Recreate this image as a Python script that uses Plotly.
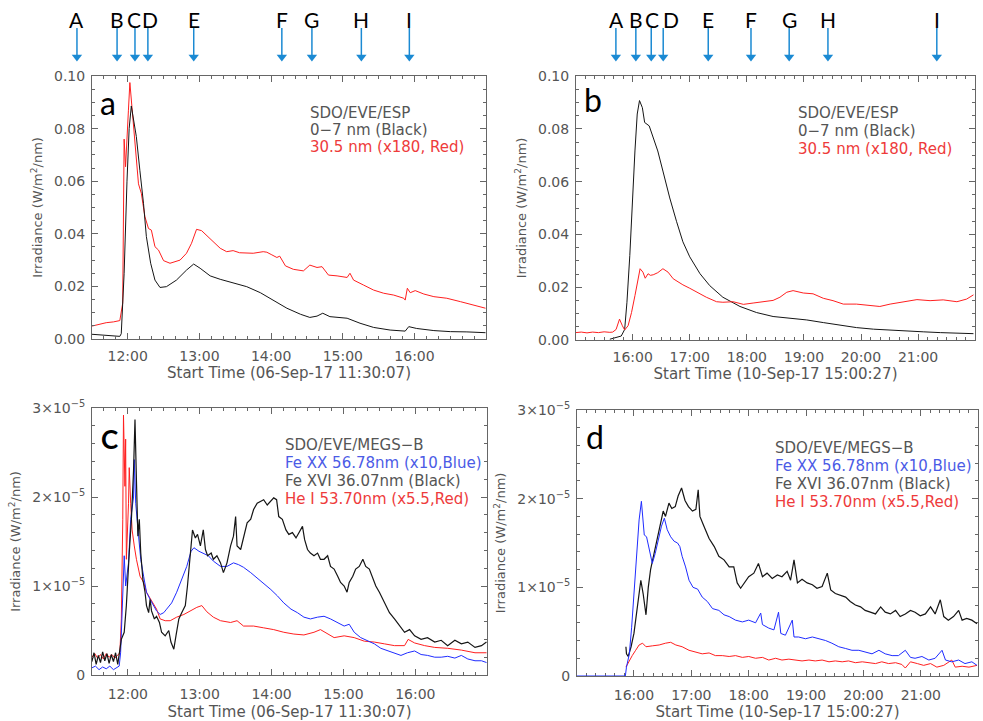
import pandas as pd
import plotly.graph_objects as go

W, H = 983, 721
DAY1 = pd.Timestamp("2017-09-06")
DAY2 = pd.Timestamp("2017-09-10")

# ---------------- data (time in decimal hours UT) ----------------
# panel a: ESP 0-7 nm (black) and 30.5 nm x180 (red), 06-Sep-17
a_black_t = [11.50, 11.65, 11.80, 11.89, 11.91, 11.95, 11.99, 12.02, 12.05, 12.12, 12.17, 12.22, 12.26,
             12.32, 12.38, 12.45, 12.54, 12.68, 12.82, 12.92, 13.01, 13.15, 13.29, 13.47, 13.66, 13.85,
             14.03, 14.22, 14.41, 14.54, 14.64, 14.72, 14.82, 15.06, 15.24, 15.43, 15.66, 15.87, 15.92,
             16.03, 16.27, 16.50, 16.73, 16.99]
a_black_v = [0.0018, 0.0015, 0.0012, 0.0010, 0.0020, 0.0250, 0.0600, 0.0800, 0.0886, 0.0770, 0.0640,
             0.0516, 0.0390, 0.0288, 0.0224, 0.0196, 0.0199, 0.0224, 0.0262, 0.0285, 0.0269, 0.0240,
             0.0227, 0.0214, 0.0199, 0.0176, 0.0146, 0.0117, 0.0094, 0.0082, 0.0087, 0.0098, 0.0085,
             0.0079, 0.0060, 0.0044, 0.0034, 0.0030, 0.0047, 0.0040, 0.0032, 0.0028, 0.0027, 0.0024]
a_red_t = [11.50, 11.60, 11.70, 11.80, 11.89, 11.93, 11.95, 11.97, 11.98, 12.01, 12.03, 12.07, 12.10,
           12.15, 12.19, 12.24, 12.29, 12.33, 12.38, 12.43, 12.50, 12.59, 12.73, 12.82, 12.89, 12.96,
           13.03, 13.10, 13.19, 13.29, 13.38, 13.47, 13.56, 13.75, 13.89, 13.94, 14.01, 14.08, 14.12,
           14.20, 14.31, 14.45, 14.54, 14.64, 14.71, 14.80, 14.92, 15.06, 15.10, 15.15, 15.29, 15.43,
           15.57, 15.71, 15.85, 15.87, 15.90, 15.94, 16.01, 16.13, 16.27, 16.45, 16.64, 16.83, 16.99]
a_red_v = [0.0049, 0.0055, 0.0062, 0.0065, 0.0070, 0.0136, 0.0760, 0.0655, 0.0720, 0.0870, 0.0975,
           0.0845, 0.0770, 0.0590, 0.0554, 0.0465, 0.0420, 0.0414, 0.0351, 0.0338, 0.0298, 0.0288,
           0.0300, 0.0326, 0.0364, 0.0417, 0.0412, 0.0395, 0.0370, 0.0345, 0.0332, 0.0336, 0.0328,
           0.0326, 0.0332, 0.0330, 0.0320, 0.0310, 0.0315, 0.0278, 0.0265, 0.0259, 0.0281, 0.0272,
           0.0275, 0.0243, 0.0240, 0.0234, 0.0250, 0.0224, 0.0205, 0.0186, 0.0174, 0.0167, 0.0155,
           0.0148, 0.0193, 0.0176, 0.0184, 0.0171, 0.0161, 0.0155, 0.0142, 0.0129, 0.0117]

# panel b: 10-Sep-17
b_black_t = [15.60, 15.70, 15.80, 15.86, 15.90, 15.95, 15.99, 16.04, 16.08, 16.12, 16.17, 16.21, 16.29,
             16.36, 16.44, 16.53, 16.65, 16.77, 16.88, 17.00, 17.18, 17.35, 17.58, 17.88, 18.17, 18.46,
             18.75, 19.05, 19.34, 19.63, 19.92, 20.22, 20.51, 20.80, 21.09, 21.39, 21.68, 21.97]
b_black_v = [0.0003, 0.0008, 0.0015, 0.0040, 0.0143, 0.0320, 0.0525, 0.0716, 0.0856, 0.0907, 0.0880,
             0.0824, 0.0811, 0.0767, 0.0716, 0.0640, 0.0538, 0.0448, 0.0372, 0.0315, 0.0251, 0.0206,
             0.0162, 0.0127, 0.0104, 0.0089, 0.0082, 0.0076, 0.0066, 0.0056, 0.0047, 0.0041, 0.0037,
             0.0033, 0.0031, 0.0028, 0.0025, 0.0024]
b_red_t = [15.00, 15.10, 15.20, 15.30, 15.40, 15.50, 15.60, 15.65, 15.71, 15.77, 15.82, 15.86, 15.92,
           15.98, 16.04, 16.09, 16.13, 16.18, 16.22, 16.27, 16.31, 16.36, 16.44, 16.53, 16.62, 16.71,
           16.80, 16.88, 17.00, 17.15, 17.29, 17.47, 17.58, 17.76, 17.94, 18.11, 18.29, 18.46, 18.58,
           18.70, 18.81, 18.99, 19.16, 19.34, 19.51, 19.69, 19.92, 20.16, 20.33, 20.51, 20.74, 20.98,
           21.21, 21.44, 21.68, 21.85, 21.97]
b_red_v = [0.0028, 0.0030, 0.0027, 0.0030, 0.0028, 0.0031, 0.0029, 0.0030, 0.0040, 0.0079, 0.0054,
           0.0038, 0.0054, 0.0104, 0.0168, 0.0232, 0.0270, 0.0257, 0.0234, 0.0251, 0.0245, 0.0247,
           0.0255, 0.0270, 0.0257, 0.0232, 0.0219, 0.0209, 0.0196, 0.0178, 0.0162, 0.0145, 0.0143,
           0.0145, 0.0135, 0.0140, 0.0146, 0.0150, 0.0162, 0.0181, 0.0187, 0.0178, 0.0175, 0.0158,
           0.0149, 0.0136, 0.0136, 0.0132, 0.0127, 0.0136, 0.0143, 0.0153, 0.0149, 0.0152, 0.0145,
           0.0155, 0.0171]

# panel c: MEGS-B lines, values in units of 1e-5 W/m2/nm
c_black_t = [11.50, 11.53, 11.56, 11.59, 11.62, 11.65, 11.68, 11.71, 11.74, 11.77, 11.80, 11.83, 11.86,
             11.89, 11.91, 11.95, 11.98, 12.02, 12.05, 12.08, 12.10, 12.12, 12.14, 12.16, 12.18, 12.21,
             12.24, 12.26, 12.29, 12.31, 12.33, 12.37, 12.40, 12.44, 12.47, 12.52, 12.57, 12.60, 12.64,
             12.67, 12.71, 12.75, 12.80, 12.83, 12.87, 12.90, 12.94, 12.97, 13.01, 13.05, 13.08, 13.11,
             13.16, 13.19, 13.24, 13.29, 13.33, 13.38, 13.43, 13.47, 13.50, 13.52, 13.57, 13.61, 13.66,
             13.71, 13.75, 13.80, 13.85, 13.89, 13.94, 13.99, 14.03, 14.07, 14.10, 14.15, 14.20, 14.24,
             14.29, 14.34, 14.38, 14.43, 14.46, 14.50, 14.54, 14.59, 14.64, 14.68, 14.73, 14.78, 14.82,
             14.87, 14.92, 14.96, 15.01, 15.05, 15.08, 15.13, 15.17, 15.22, 15.27, 15.31, 15.36, 15.41,
             15.45, 15.50, 15.57, 15.64, 15.71, 15.78, 15.85, 15.92, 15.99, 16.08, 16.17, 16.27, 16.36,
             16.45, 16.55, 16.64, 16.73, 16.83, 16.92, 16.99]
c_black_v = [0.15, 0.25, 0.12, 0.22, 0.14, 0.26, 0.16, 0.24, 0.13, 0.23, 0.15, 0.25, 0.12, 0.29, 0.40,
             0.48, 0.78, 1.37, 1.75, 2.30, 2.87, 2.19, 1.56, 1.75, 1.37, 1.07, 0.93, 0.78, 0.70, 0.85,
             0.72, 0.63, 0.66, 0.59, 0.48, 0.44, 0.50, 0.37, 0.29, 0.44, 0.63, 0.70, 0.78, 1.00, 1.37,
             1.63, 1.54, 1.58, 1.45, 1.63, 1.41, 1.34, 1.37, 1.30, 1.34, 1.26, 1.15, 1.26, 1.45, 1.56,
             1.78, 1.45, 1.41, 1.56, 1.71, 1.75, 1.86, 1.93, 1.95, 1.97, 1.91, 1.95, 1.99, 1.97, 1.78,
             1.75, 1.63, 1.58, 1.60, 1.54, 1.60, 1.67, 1.52, 1.41, 1.37, 1.34, 1.37, 1.30, 1.30, 1.34,
             1.22, 1.19, 1.11, 1.04, 1.00, 0.93, 1.04, 1.11, 1.19, 1.22, 1.30, 1.22, 1.19, 1.07, 1.00,
             0.93, 0.81, 0.70, 0.63, 0.55, 0.48, 0.51, 0.44, 0.40, 0.42, 0.37, 0.39, 0.33, 0.39, 0.35,
             0.37, 0.31, 0.33, 0.37]
c_blue_t = [11.50, 11.55, 11.60, 11.65, 11.70, 11.75, 11.80, 11.85, 11.88, 11.90, 11.93, 11.95, 11.97,
            12.01, 12.04, 12.08, 12.09, 12.11, 12.15, 12.18, 12.22, 12.26, 12.31, 12.36, 12.40, 12.45,
            12.50, 12.54, 12.61, 12.68, 12.75, 12.82, 12.88, 12.92, 12.99, 13.05, 13.12, 13.19, 13.29,
            13.38, 13.47, 13.54, 13.61, 13.71, 13.80, 13.89, 13.99, 14.08, 14.17, 14.27, 14.36, 14.45,
            14.54, 14.64, 14.73, 14.82, 14.92, 15.01, 15.08, 15.15, 15.24, 15.34, 15.43, 15.52, 15.62,
            15.71, 15.80, 15.89, 15.99, 16.08, 16.17, 16.27, 16.36, 16.45, 16.55, 16.64, 16.73, 16.83,
            16.92, 16.99]
c_blue_v = [0.08, 0.10, 0.06, 0.09, 0.07, 0.10, 0.06, 0.09, 0.10, 0.25, 1.00, 1.34, 1.00, 1.26, 1.75,
            2.00, 2.42, 1.93, 1.56, 1.30, 1.11, 0.93, 0.85, 0.78, 0.72, 0.68, 0.70, 0.74, 0.81, 0.93,
            1.07, 1.22, 1.39, 1.43, 1.39, 1.37, 1.34, 1.28, 1.22, 1.22, 1.26, 1.24, 1.21, 1.15, 1.09,
            1.02, 0.96, 0.89, 0.81, 0.74, 0.70, 0.65, 0.63, 0.65, 0.66, 0.63, 0.59, 0.55, 0.57, 0.48,
            0.42, 0.38, 0.35, 0.30, 0.27, 0.24, 0.22, 0.25, 0.27, 0.23, 0.22, 0.20, 0.20, 0.21, 0.19,
            0.22, 0.18, 0.16, 0.16, 0.14]
c_red_t = [11.50, 11.54, 11.58, 11.62, 11.66, 11.70, 11.74, 11.78, 11.82, 11.86, 11.89, 11.91, 11.93,
           11.94, 11.96, 11.97, 11.98, 12.01, 12.02, 12.04, 12.06, 12.09, 12.12, 12.17, 12.22, 12.26,
           12.33, 12.40, 12.45, 12.52, 12.59, 12.68, 12.78, 12.87, 12.96, 13.03, 13.10, 13.19, 13.29,
           13.43, 13.52, 13.61, 13.75, 13.89, 14.03, 14.17, 14.31, 14.45, 14.59, 14.68, 14.78, 14.87,
           15.01, 15.15, 15.29, 15.43, 15.57, 15.71, 15.85, 15.90, 15.99, 16.13, 16.27, 16.45, 16.64,
           16.83, 16.99]
c_red_v = [0.20, 0.24, 0.19, 0.23, 0.18, 0.24, 0.20, 0.23, 0.19, 0.22, 0.25, 0.63, 1.75, 2.92, 2.12,
           2.65, 1.30, 1.93, 2.33, 1.93, 1.63, 1.45, 1.30, 1.11, 1.04, 0.93, 0.83, 0.74, 0.63, 0.61,
           0.61, 0.65, 0.68, 0.72, 0.76, 0.78, 0.71, 0.65, 0.61, 0.59, 0.61, 0.55, 0.55, 0.53, 0.51,
           0.48, 0.46, 0.45, 0.48, 0.51, 0.46, 0.42, 0.44, 0.42, 0.38, 0.37, 0.35, 0.33, 0.33, 0.40,
           0.36, 0.33, 0.31, 0.30, 0.28, 0.25, 0.25]

# panel d, units of 1e-5 W/m2/nm
d_black_t = [15.86, 15.87, 15.90, 15.95, 16.00, 16.06, 16.12, 16.16, 16.21, 16.25, 16.29, 16.35, 16.41,
             16.47, 16.51, 16.55, 16.61, 16.66, 16.72, 16.77, 16.83, 16.89, 16.95, 17.02, 17.08, 17.12,
             17.15, 17.22, 17.31, 17.40, 17.48, 17.57, 17.66, 17.74, 17.80, 17.86, 17.92, 18.00, 18.09,
             18.17, 18.24, 18.32, 18.41, 18.50, 18.58, 18.67, 18.73, 18.79, 18.85, 18.93, 19.02, 19.11,
             19.19, 19.28, 19.37, 19.43, 19.51, 19.60, 19.69, 19.77, 19.86, 19.95, 20.03, 20.12, 20.21,
             20.30, 20.38, 20.47, 20.56, 20.64, 20.73, 20.82, 20.90, 20.99, 21.08, 21.17, 21.25, 21.34,
             21.40, 21.48, 21.57, 21.66, 21.72, 21.80, 21.89, 21.98]
d_black_v = [0.33, 0.25, 0.22, 0.33, 0.48, 0.78, 1.08, 0.93, 0.69, 1.00, 1.20, 1.38, 1.57, 1.76, 1.86,
             1.80, 1.95, 1.89, 1.91, 2.03, 2.12, 1.98, 1.91, 1.86, 1.88, 2.10, 1.80, 1.69, 1.55, 1.46,
             1.35, 1.31, 1.23, 1.23, 1.05, 0.99, 1.05, 1.12, 1.16, 1.27, 1.12, 1.16, 1.10, 1.14, 1.12,
             1.18, 1.08, 1.31, 1.05, 1.09, 1.05, 1.03, 0.99, 1.01, 1.16, 0.97, 0.93, 0.91, 0.89, 0.84,
             0.80, 0.78, 0.74, 0.72, 0.70, 0.78, 0.72, 0.70, 0.74, 0.67, 0.70, 0.74, 0.72, 0.68, 0.70,
             0.78, 0.70, 0.86, 0.67, 0.63, 0.67, 0.74, 0.63, 0.65, 0.63, 0.59]
d_blue_t = [15.00, 15.85, 15.87, 15.92, 15.96, 16.01, 16.06, 16.09, 16.13, 16.16, 16.18, 16.22, 16.25,
            16.29, 16.32, 16.37, 16.43, 16.48, 16.53, 16.58, 16.64, 16.70, 16.76, 16.80, 16.84, 16.90,
            16.96, 17.03, 17.11, 17.19, 17.28, 17.37, 17.48, 17.57, 17.66, 17.77, 17.89, 18.00, 18.12,
            18.21, 18.24, 18.35, 18.44, 18.52, 18.56, 18.64, 18.76, 18.79, 18.87, 18.99, 19.11, 19.22,
            19.34, 19.45, 19.57, 19.69, 19.80, 19.92, 20.03, 20.15, 20.27, 20.38, 20.50, 20.61, 20.73,
            20.82, 20.90, 21.02, 21.14, 21.25, 21.37, 21.43, 21.54, 21.66, 21.77, 21.89, 21.98]
d_blue_v = [0.00, 0.00, 0.10, 0.25, 0.55, 1.00, 1.46, 1.76, 1.97, 1.76, 1.59, 1.57, 1.48, 1.38, 1.27,
            1.38, 1.54, 1.69, 1.78, 1.65, 1.57, 1.52, 1.50, 1.46, 1.35, 1.23, 1.08, 1.00, 0.98, 0.89,
            0.84, 0.76, 0.74, 0.69, 0.67, 0.63, 0.61, 0.63, 0.60, 0.71, 0.58, 0.54, 0.52, 0.72, 0.48,
            0.46, 0.63, 0.44, 0.44, 0.42, 0.44, 0.42, 0.40, 0.37, 0.33, 0.31, 0.29, 0.29, 0.27, 0.25,
            0.29, 0.25, 0.23, 0.23, 0.29, 0.21, 0.20, 0.22, 0.18, 0.20, 0.29, 0.18, 0.16, 0.18, 0.14,
            0.16, 0.12]
d_red_t = [15.86, 15.92, 15.97, 16.03, 16.09, 16.15, 16.21, 16.32, 16.44, 16.55, 16.64, 16.73, 16.84,
           16.96, 17.08, 17.19, 17.31, 17.42, 17.54, 17.66, 17.77, 17.89, 18.00, 18.12, 18.24, 18.35,
           18.47, 18.58, 18.70, 18.81, 18.93, 19.05, 19.16, 19.28, 19.40, 19.51, 19.63, 19.74, 19.86,
           19.98, 20.09, 20.21, 20.32, 20.44, 20.56, 20.67, 20.73, 20.82, 20.94, 21.05, 21.17, 21.28,
           21.40, 21.54, 21.60, 21.72, 21.84, 21.98]
d_red_v = [0.10, 0.18, 0.23, 0.29, 0.35, 0.37, 0.33, 0.34, 0.35, 0.37, 0.38, 0.35, 0.33, 0.29, 0.27,
           0.25, 0.26, 0.23, 0.23, 0.22, 0.23, 0.21, 0.22, 0.20, 0.21, 0.18, 0.20, 0.18, 0.19, 0.18,
           0.17, 0.18, 0.17, 0.18, 0.16, 0.17, 0.16, 0.17, 0.15, 0.16, 0.15, 0.14, 0.16, 0.14, 0.15,
           0.13, 0.09, 0.16, 0.14, 0.12, 0.14, 0.10, 0.12, 0.18, 0.10, 0.11, 0.10, 0.12]

# event markers A..I (decimal hours) for each day
event_labels = ["A", "B", "C", "D", "E", "F", "G", "H", "I"]
events_day1 = [11.29, 11.85, 12.10, 12.28, 12.92, 14.15, 14.57, 15.26, 15.93]
events_day2 = [15.70, 16.05, 16.32, 16.53, 17.32, 18.07, 18.74, 19.42, 21.33]
# small sideways nudges (px) of the letters so crowded ones do not collide
label_nudge_day1 = [0, 0, -1, 2, 0, 0, 0, 0, 0]
label_nudge_day2 = [1, 0, 1, 8, 0, 0, 0, 0, 0]

tick_labels_c = ["0", "1×10<sup>−5</sup>", "2×10<sup>−5</sup>", "3×10<sup>−5</sup>"]
tick_vals_c = [0, 1e-5, 2e-5, 3e-5]
SCALE = 1e-5


def at(day, hours):
    return day + pd.to_timedelta(hours, unit="h")


def scaled(vals):
    return [v * SCALE for v in vals]


def px(x):
    return x / W


def py(y):
    return 1 - y / H


BLACK, RED, BLUE = "#151515", "#ff1f1f", "#1f2cff"
GREY = "#555555"
FONT = "DejaVu Sans"
ARROW = "#1b8ad3"

fig = go.Figure()


def line(x, y, color, xa, ya, width=1):
    fig.add_trace(go.Scatter(x=x, y=y, mode="lines", line=dict(color=color, width=width),
                             xaxis=xa, yaxis=ya, showlegend=False, hoverinfo="skip"))


line(at(DAY1, a_red_t), a_red_v, RED, "x", "y")
line(at(DAY1, a_black_t), a_black_v, BLACK, "x", "y")
line(at(DAY2, b_black_t), b_black_v, BLACK, "x2", "y2")
line(at(DAY2, b_red_t), b_red_v, RED, "x2", "y2")
line(at(DAY1, c_red_t), scaled(c_red_v), RED, "x3", "y3")
line(at(DAY1, c_blue_t), scaled(c_blue_v), BLUE, "x3", "y3")
line(at(DAY1, c_black_t), scaled(c_black_v), BLACK, "x3", "y3", width=1.2)
line(at(DAY2, d_black_t), scaled(d_black_v), BLACK, "x4", "y4", width=1.2)
line(at(DAY2, d_red_t), scaled(d_red_v), RED, "x4", "y4")
line(at(DAY2, d_blue_t), scaled(d_blue_v), BLUE, "x4", "y4")

# arrow strips above the top panels: y axis counts pixels down from the top edge
STRIP_TAIL, STRIP_HEAD = 28, 57
for xa_name, ya_name, day, evs in (("x5", "y5", DAY1, events_day1), ("x6", "y6", DAY2, events_day2)):
    xs, ys = [], []
    for h in evs:
        t = at(day, h)
        xs += [t, t, None]
        ys += [STRIP_TAIL, STRIP_HEAD, None]
    fig.add_trace(go.Scatter(x=xs, y=ys, mode="lines", line=dict(color=ARROW, width=1.5),
                             xaxis=xa_name, yaxis=ya_name, showlegend=False, hoverinfo="skip"))
    fig.add_trace(go.Scatter(x=at(day, evs), y=[STRIP_HEAD] * len(evs), mode="markers",
                             marker=dict(symbol="triangle-down", size=9, color=ARROW, line=dict(width=0)),
                             xaxis=xa_name, yaxis=ya_name, showlegend=False, hoverinfo="skip",
                             cliponaxis=False))

dom = {
    "a": ([px(92), px(486)], [py(339), py(76)]),
    "b": ([px(576), px(975)], [py(340), py(76)]),
    "c": ([px(92), px(487)], [py(675), py(408)]),
    "d": ([px(577), px(978)], [py(676), py(410)]),
}
# visible time window per panel (start times from the axis titles)
hours = {"a": (11.5 + 7 / 3600, 16.997), "b": (15.0 + 27 / 3600, 21.997),
         "c": (11.5 + 7 / 3600, 16.997), "d": (15.0 + 27 / 3600, 21.997)}
days = {"a": DAY1, "b": DAY2, "c": DAY1, "d": DAY2}
xtitles = {"a": "Start Time (06-Sep-17 11:30:07)", "b": "Start Time (10-Sep-17 15:00:27)",
           "c": "Start Time (06-Sep-17 11:30:07)", "d": "Start Time (10-Sep-17 15:00:27)"}

frame = dict(showline=True, linecolor="#666666", linewidth=1, mirror="ticks", ticks="inside",
             tickcolor="#666666", ticklen=6, showgrid=False, zeroline=False,
             tickfont=dict(family=FONT, size=14, color=GREY))

for i, k in enumerate(["a", "b", "c", "d"], start=1):
    xd, yd = dom[k]
    h0, h1 = hours[k]
    lower = k in ("c", "d")
    xa = dict(frame, domain=xd, anchor=f"y{i}", type="date",
              range=[at(days[k], h0), at(days[k], h1)], dtick=3600000, tickformat="%H:%M",
              tick0=days[k],
              minor=dict(dtick=600000, tick0=days[k], ticks="inside", ticklen=3, tickcolor="#666666"),
              ticklabelstandoff=6 if lower else 4,
              title=dict(text=xtitles[k], font=dict(family=FONT, size=15, color=GREY),
                         standoff=7 if lower else 4))
    ya = dict(frame, domain=yd, anchor=f"x{i}", ticklabelstandoff=3,
              title=dict(text="Irradiance (W/m<sup>2</sup>/nm)", font=dict(family=FONT, size=13, color=GREY),
                         standoff=8))
    if not lower:
        ya.update(range=[0, 0.1], dtick=0.02, tickformat=".2f",
                  minor=dict(dtick=0.005, ticks="inside", ticklen=3, tickcolor="#666666"))
    else:
        ya.update(range=[0, 3e-5], tickmode="array", tickvals=tick_vals_c, ticktext=tick_labels_c,
                  minor=dict(tickmode="linear", tick0=0, dtick=2e-6, ticks="inside", ticklen=3,
                             tickcolor="#666666"))
    if k == "d":
        xa["layer"] = "below traces"
        ya["layer"] = "below traces"
    sfx = "" if i == 1 else str(i)
    fig.update_layout({f"xaxis{sfx}": xa, f"yaxis{sfx}": ya})

# left strip widened so marker A (before 11:30) still falls on its axis
xa_d0, xa_d1 = dom["a"][0]
lo = 17.0 - 5.5 * (xa_d1 - 0.0) / (xa_d1 - xa_d0)
strip_dom = [py(72), 1.0]
fig.update_layout(
    xaxis5=dict(domain=[0.0, xa_d1], range=[at(DAY1, lo), at(DAY1, 17.0)], type="date",
                anchor="y5", visible=False),
    yaxis5=dict(domain=strip_dom, range=[72, 0], anchor="x5", visible=False),
    xaxis6=dict(domain=dom["b"][0], range=[at(DAY2, 15.0), at(DAY2, 22.0)], type="date",
                anchor="y6", visible=False),
    yaxis6=dict(domain=strip_dom, range=[72, 0], anchor="x6", visible=False),
)

ann = []
for ref, yref, day, evs, nudges in (("x5", "y5", DAY1, events_day1, label_nudge_day1),
                                    ("x6", "y6", DAY2, events_day2, label_nudge_day2)):
    for lab, h, nd in zip(event_labels, evs, nudges):
        ann.append(dict(x=at(day, h), y=19, xref=ref, yref=yref, text=lab, showarrow=False,
                        xanchor="center", yanchor="middle", xshift=nd,
                        font=dict(family="Lato", size=21, color="black")))

# panel letters
for txt, x, y, sz, bold in (("a", 108, 103, 32, False), ("b", 593, 100, 32, False),
                            ("C", 109, 439, 26, True), ("d", 595, 437, 32, False)):
    ann.append(dict(x=px(x), y=py(y), xref="paper", yref="paper", showarrow=False,
                    text=f"<b>{txt}</b>" if bold else txt, xanchor="center", yanchor="middle",
                    font=dict(family="Lato", size=sz, color="black")))

LRED, LBLUE = "#ee3b3b", "#4b5be6"
legends = [
    (308, [113, 130, 147], [("SDO/EVE/ESP", GREY), ("0−7 nm (Black)", GREY), ("30.5 nm (x180, Red)", LRED)]),
    (796, [113, 131, 149], [("SDO/EVE/ESP", GREY), ("0−7 nm (Black)", GREY), ("30.5 nm (x180, Red)", LRED)]),
    (283, [445, 463, 481, 499], [("SDO/EVE/MEGS−B", GREY), ("Fe XX 56.78nm (x10,Blue)", LBLUE),
                                 ("Fe XVI 36.07nm (Black)", GREY), ("He I 53.70nm (x5.5,Red)", LRED)]),
    (773, [448, 466, 484, 502], [("SDO/EVE/MEGS−B", GREY), ("Fe XX 56.78nm (x10,Blue)", LBLUE),
                                 ("Fe XVI 36.07nm (Black)", GREY), ("He I 53.70nm (x5.5,Red)", LRED)]),
]
for x, ys, items in legends:
    for y, (txt, col) in zip(ys, items):
        ann.append(dict(x=px(x), y=py(y), xref="paper", yref="paper", showarrow=False, text=txt,
                        xanchor="left", yanchor="middle", font=dict(family=FONT, size=15, color=col)))

fig.update_layout(
    annotations=ann,
    width=W, height=H, autosize=False,
    margin=dict(l=0, r=0, t=0, b=0),
    template="none",
    paper_bgcolor="white", plot_bgcolor="white",
    showlegend=False,
)

# drop the browser's default 8px body margin so the 983x721 figure fills the window exactly
fig.write_html("out.html", config={"displayModeBar": False},
               post_script="document.body.style.margin='0';")
